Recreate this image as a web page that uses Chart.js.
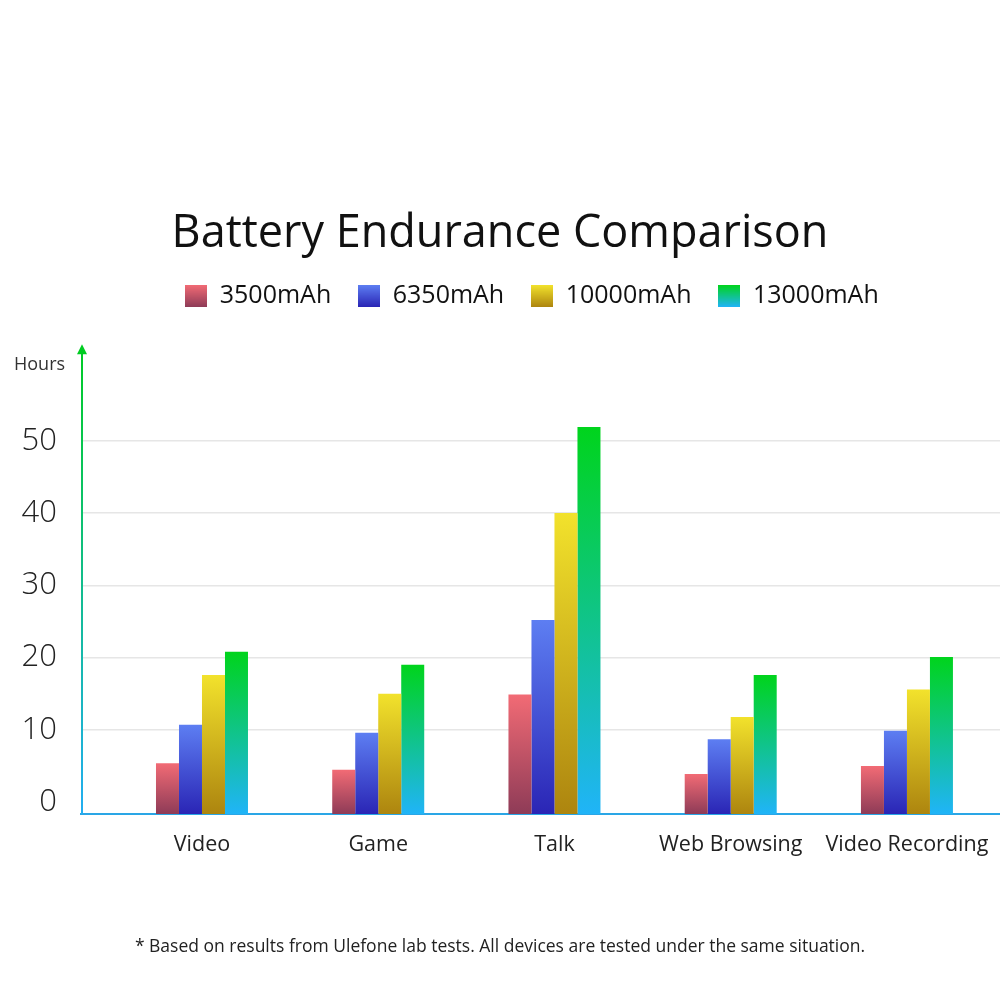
<!DOCTYPE html>
<html>
<head>
<meta charset="utf-8">
<title>Battery Endurance Comparison</title>
<script src="https://cdn.jsdelivr.net/npm/chart.js@4.4.1/dist/chart.umd.min.js"></script>
<style>
  html, body { margin: 0; padding: 0; background: #fff; }
  #wrap { width: 1000px; height: 1000px; }
</style>
</head>
<body>
<div id="wrap"><canvas id="batteryChart"></canvas></div>
<script>
// data (hours)
const categories = ['Video', 'Game', 'Talk', 'Web Browsing', 'Video Recording'];
const seriesNames = ['3500mAh', '6350mAh', '10000mAh', '13000mAh'];
const mah3500 = [5.4, 4.5, 14.9, 3.9, 5.0];
const mah6350 = [10.7, 9.6, 25.2, 8.7, 9.9];
const mah10000 = [17.6, 15.0, 40.0, 11.8, 15.6];
const mah13000 = [20.8, 19.0, 51.9, 17.6, 20.1];
const yTicks = [0, 10, 20, 30, 40, 50];

// scale limits
const yMin = -1.63;
const yMax = 66.9;
const arrowTopValue = 63.35;
const xMin = -0.6865;
const xMax = 4.528;

// top / bottom colours of each gradient
const gradients = [
  ['#f26b75', '#8e3b57'],
  ['#5d7ef2', '#2a25b5'],
  ['#f2e22c', '#ad850f'],
  ['#00d41c', '#20b4f8']
];

Chart.defaults.font.family = '"Open Sans", sans-serif';

function barFill(i) {
  return function (ctx) {
    const [top, bottom] = gradients[i];
    if (ctx.type !== 'data' || !ctx.chart.chartArea) return top;
    const y = ctx.chart.scales.y;
    const y1 = y.getPixelForValue(ctx.parsed.y);
    const y2 = y.getPixelForValue(yMin);
    const g = ctx.chart.ctx.createLinearGradient(0, y1, 0, y2);
    g.addColorStop(0, top);
    g.addColorStop(1, bottom);
    return g;
  };
}

function legendIcon(i) {
  const c = document.createElement('canvas');
  c.width = 22;
  c.height = 22;
  const cx = c.getContext('2d');
  const g = cx.createLinearGradient(0, 0, 0, 22);
  g.addColorStop(0, gradients[i][0]);
  g.addColorStop(1, gradients[i][1]);
  cx.fillStyle = g;
  cx.fillRect(0, 0, 22, 22);
  return c;
}
const legendIcons = seriesNames.map((n, i) => legendIcon(i));

const seriesValues = [mah3500, mah6350, mah10000, mah13000];

// y axis line with arrow + "Hours" label
const axisDeco = {
  id: 'axisDeco',
  afterDraw(chart) {
    const { ctx, chartArea, scales } = chart;
    const x0 = chartArea.left + 1;
    const yb = chartArea.bottom;
    const yt = scales.y.getPixelForValue(arrowTopValue);
    ctx.save();
    const g = ctx.createLinearGradient(0, yb, 0, yt);
    g.addColorStop(0, '#22aef2');
    g.addColorStop(1, '#00cc22');
    ctx.strokeStyle = g;
    ctx.lineWidth = 2;
    ctx.beginPath();
    ctx.moveTo(x0, yb);
    ctx.lineTo(x0, yt + 8);
    ctx.stroke();
    ctx.fillStyle = '#00cc22';
    ctx.beginPath();
    ctx.moveTo(x0, yt);
    ctx.lineTo(x0 - 5, yt + 10);
    ctx.lineTo(x0 + 5, yt + 10);
    ctx.closePath();
    ctx.fill();
    ctx.fillStyle = '#333';
    ctx.font = '18px "Open Sans"';
    ctx.textBaseline = 'middle';
    ctx.textAlign = 'left';
    ctx.fillText('Hours', 14, 365);
    ctx.restore();
  }
};

// legend sits a bit right of centre in the original
const legendShift = {
  id: 'legendShift',
  afterUpdate(chart) {
    chart.legend.left += 32;
    chart.legend.right += 32;
  }
};

new Chart(document.getElementById('batteryChart'), {
  type: 'bar',
  data: {
    datasets: seriesNames.map((name, i) => ({
      label: name,
      data: seriesValues[i].map((v, j) => ({ x: j, y: v })),
      backgroundColor: barFill(i),
      borderWidth: 0,
      base: yMin,
      categoryPercentage: 0.522,
      barPercentage: 1.0
    }))
  },
  options: {
    responsive: true,
    maintainAspectRatio: false,
    animation: false,
    layout: { autoPadding: false, padding: 0 },
    plugins: {
      title: {
        display: true,
        text: 'Battery Endurance Comparison',
        color: '#111',
        font: { size: 45, weight: 'normal', lineHeight: 1.0 },
        padding: { top: 211.5, bottom: 0 }
      },
      legend: {
        display: true,
        labels: {
          usePointStyle: true,
          boxWidth: 22,
          boxHeight: 22,
          padding: 27,
          color: '#111',
          font: { size: 25 },
          generateLabels: (chart) => chart.data.datasets.map((ds, i) => ({
            text: ds.label,
            pointStyle: legendIcons[i],
            fillStyle: 'transparent',
            strokeStyle: 'transparent',
            lineWidth: 0,
            fontColor: '#111',
            hidden: false,
            datasetIndex: i
          }))
        }
      },
      subtitle: {
        display: true,
        position: 'bottom',
        text: '* Based on results from Ulefone lab tests. All devices are tested under the same situation.',
        color: '#222',
        font: { size: 17.5, weight: 'normal', lineHeight: 1.2 },
        padding: { top: 0, bottom: 42.5 }
      },
      tooltip: { enabled: false }
    },
    scales: {
      x: {
        type: 'linear',
        offset: false,
        min: xMin,
        max: xMax,
        afterBuildTicks: (s) => { s.ticks = categories.map((c, i) => ({ value: i })); },
        afterFit: (s) => { s.height = 122.5; },
        ticks: {
          autoSkip: false,
          maxRotation: 0,
          padding: 0,
          color: '#222',
          font: { size: 21.5 },
          callback: (v) => categories[v]
        },
        // invisible tick marks push the labels down without widening the side padding
        grid: {
          display: true,
          drawOnChartArea: false,
          drawTicks: true,
          tickLength: 18.4,
          color: 'rgba(0,0,0,0)',
          offset: false
        },
        border: { display: true, color: '#2aa6e6', width: 2 }
      },
      y: {
        min: yMin,
        max: yMax,
        afterBuildTicks: (s) => { s.ticks = yTicks.map(v => ({ value: v })); },
        afterFit: (s) => { s.width = 81; },
        ticks: {
          padding: 24,
          color: '#222',
          font: { size: 31, weight: 300 }
        },
        grid: {
          drawTicks: false,
          lineWidth: 1.5,
          color: (ctx) => (ctx.tick && ctx.tick.value === 0 ? 'rgba(0,0,0,0)' : '#e6e6e6')
        },
        border: { display: false }
      }
    }
  },
  plugins: [axisDeco, legendShift]
});
</script>
</body>
</html>
